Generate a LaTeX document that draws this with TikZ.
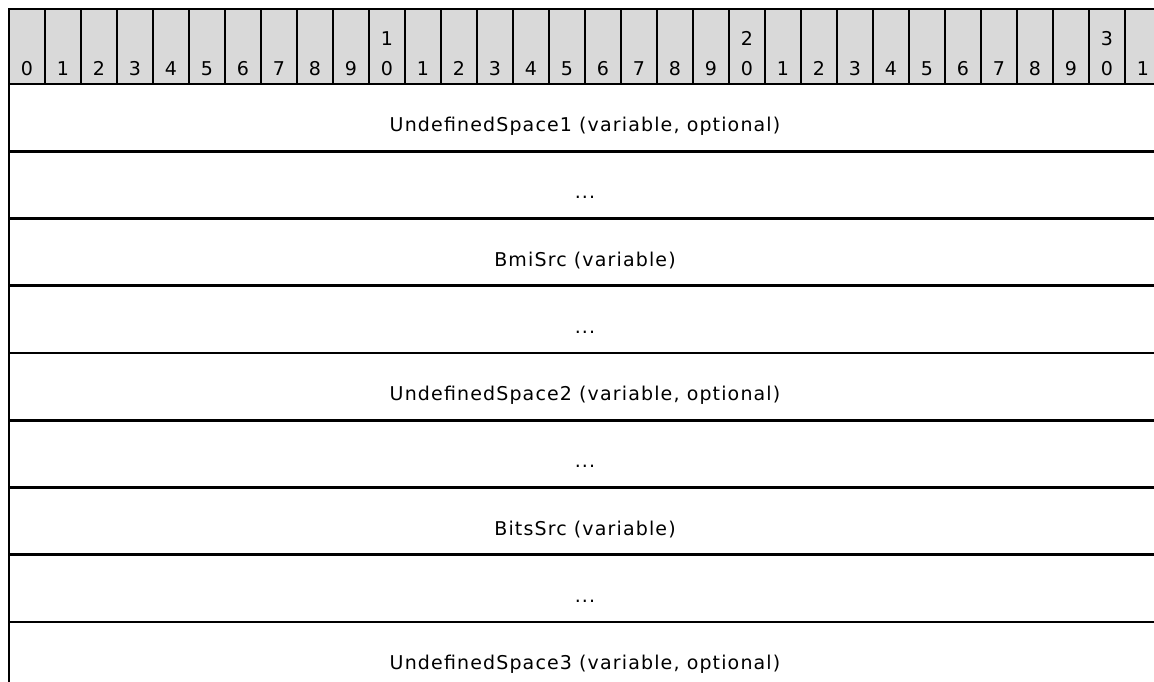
\documentclass[tikz,border=0pt]{standalone}
\usepackage{fontspec}
\setmainfont[LetterSpace=6]{DejaVu Sans}
\definecolor{hdrgray}{RGB}{217,217,217}
\begin{document}
\begin{tikzpicture}[x=1pt,y=-1pt,
  rule/.style={line width=2.6pt,line cap=rect},
  colrule/.style={line width=2pt},
  bitnum/.style={anchor=base,inner sep=0pt,font=\fontsize{19}{20}\selectfont},
  fieldlbl/.style={anchor=base,inner sep=0pt,font=\fontsize{19}{20}\selectfont}]
\useasboundingbox (0,0) rectangle (1154,681);
\begin{scope}
\clip (0,0) rectangle (1154,681);
% header
\fill[hdrgray] (9,9) rectangle (1161,84);
\foreach \k in {0,...,32}{
  \draw[colrule] ({9+36*\k},9) -- ({9+36*\k},84);
}
\foreach \k in {0,...,31}{
  \pgfmathtruncatemacro{\u}{mod(\k,10)}
  \pgfmathtruncatemacro{\t}{div(\k,10)}
  \node[bitnum] (b\k) at ({27+36*\k},75) {\u};
  \ifnum\u=0 \ifnum\t>0
    \node[bitnum] (t\k) at ({27+36*\k},45.5) {\t};
  \fi\fi
}
% horizontal rules
\foreach \y in {9,84,151.25,218.5,285.75,353,420.25,487.5,554.75,622,689.25}{
  \draw[rule] (9,\y) -- (1161,\y);
}
\draw[rule] (9,9) -- (9,689.25);
\draw[rule] (1161,9) -- (1161,689.25);
% labels
\node[fieldlbl] (f1) at (585,131.5) {UndefinedSpace1 (variable, optional)};
\node[fieldlbl] (f2) at (585,198.75) {...};
\node[fieldlbl] (f3) at (585,266) {BmiSrc (variable)};
\node[fieldlbl] (f4) at (585,333.25) {...};
\node[fieldlbl] (f5) at (585,400.5) {UndefinedSpace2 (variable, optional)};
\node[fieldlbl] (f6) at (585,467.75) {...};
\node[fieldlbl] (f7) at (585,535) {BitsSrc (variable)};
\node[fieldlbl] (f8) at (585,602.25) {...};
\node[fieldlbl] (f9) at (585,669.5) {UndefinedSpace3 (variable, optional)};
\end{scope}
\end{tikzpicture}
\end{document}
